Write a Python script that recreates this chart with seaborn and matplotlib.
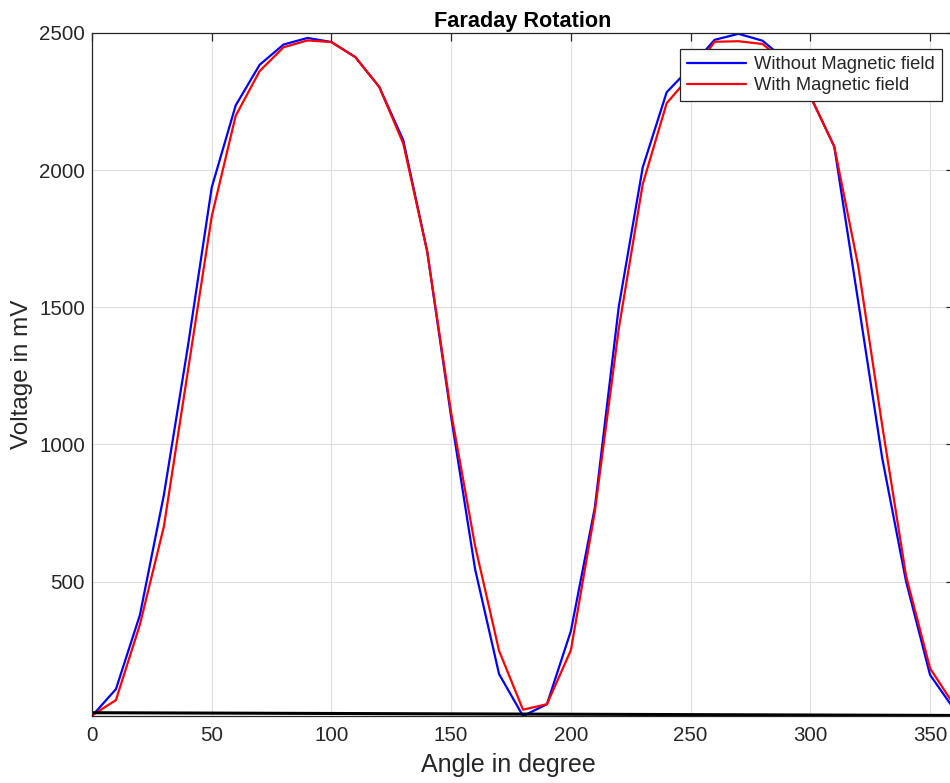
import pandas as pd
import matplotlib
matplotlib.use("Agg")
import matplotlib.pyplot as plt
import seaborn as sns

# Data (voltage in mV every 10 degrees)

angle = [0, 10, 20, 30, 40, 50, 60, 70, 80, 90, 100, 110, 120, 130, 140, 150, 160, 170, 180,
         190, 200, 210, 220, 230, 240, 250, 260, 270, 280, 290, 300, 310, 320, 330, 340, 350, 360]

without_field = [10, 108, 378, 815, 1355, 1937, 2236, 2384, 2458, 2482, 2467, 2412, 2303, 2109,
                 1703, 1100, 545, 163, 10, 53, 320, 770, 1502, 2010, 2284, 2375, 2475, 2497,
                 2472, 2400, 2270, 2086, 1520, 951, 500, 160, 35]

with_field = [12, 68, 343, 700, 1265, 1831, 2198, 2361, 2448, 2473, 2467, 2412, 2303, 2097,
              1703, 1115, 630, 248, 33, 53, 250, 755, 1422, 1949, 2244, 2345, 2468, 2470,
              2460, 2390, 2270, 2086, 1650, 1070, 520, 184, 50]

base_angle = [0, 360]
base_value = [22, 12]

df = pd.DataFrame({"angle": angle, "without": without_field, "with": with_field})
base = pd.DataFrame({"angle": base_angle, "value": base_value})

sns.set_style("whitegrid")
plt.rcParams["font.family"] = ["Liberation Sans", "DejaVu Sans"]

fig = plt.figure(figsize=(9.5, 7.83), dpi=100)
ax = fig.add_axes([92 / 950, 67 / 783, 862 / 950, 683 / 783])

sns.lineplot(data=df, x="angle", y="without", color="#0000ff", linewidth=1.6,
             label="Without Magnetic field", ax=ax)
sns.lineplot(data=df, x="angle", y="with", color="#ff0000", linewidth=1.6,
             label="With Magnetic field", ax=ax)
sns.lineplot(data=base, x="angle", y="value", color="black", linewidth=2.2,
             legend=False, ax=ax)

ax.set_xlim(0, 360)
ax.set_ylim(10, 2500)
ax.set_xticks([0, 50, 100, 150, 200, 250, 300, 350])
ax.set_yticks([500, 1000, 1500, 2000, 2500])

ax.grid(True, color="#dedede", linewidth=0.8)
for s in ax.spines.values():
    s.set_color("#262626")
    s.set_linewidth(0.9)
ax.tick_params(direction="in", length=5.5, width=0.9, color="#262626",
               labelsize=14.8, labelcolor="#262626", top=True, right=True)
ax.tick_params(axis="x", pad=7.5)
ax.tick_params(axis="y", pad=5)

ax.set_title("Faraday Rotation", fontsize=15.6, fontweight="bold", pad=4, color="black")
ax.set_xlabel("Angle in degree", fontsize=18, color="#262626")
ax.set_ylabel("Voltage in mV", fontsize=17.5, color="#262626")
ax.xaxis.set_label_coords(0.4826, -0.054)
ax.yaxis.set_label_coords(-0.068, 0.5)

leg = ax.legend(loc="upper right", bbox_to_anchor=(0.986, 0.9766), borderaxespad=0,
                fontsize=13.2, frameon=True, fancybox=False, framealpha=1,
                edgecolor="#262626", handlelength=3.2, handletextpad=0.45,
                labelspacing=0.2, borderpad=0.4)
leg.get_frame().set_linewidth(0.9)

plt.savefig("out.png", dpi=100)
